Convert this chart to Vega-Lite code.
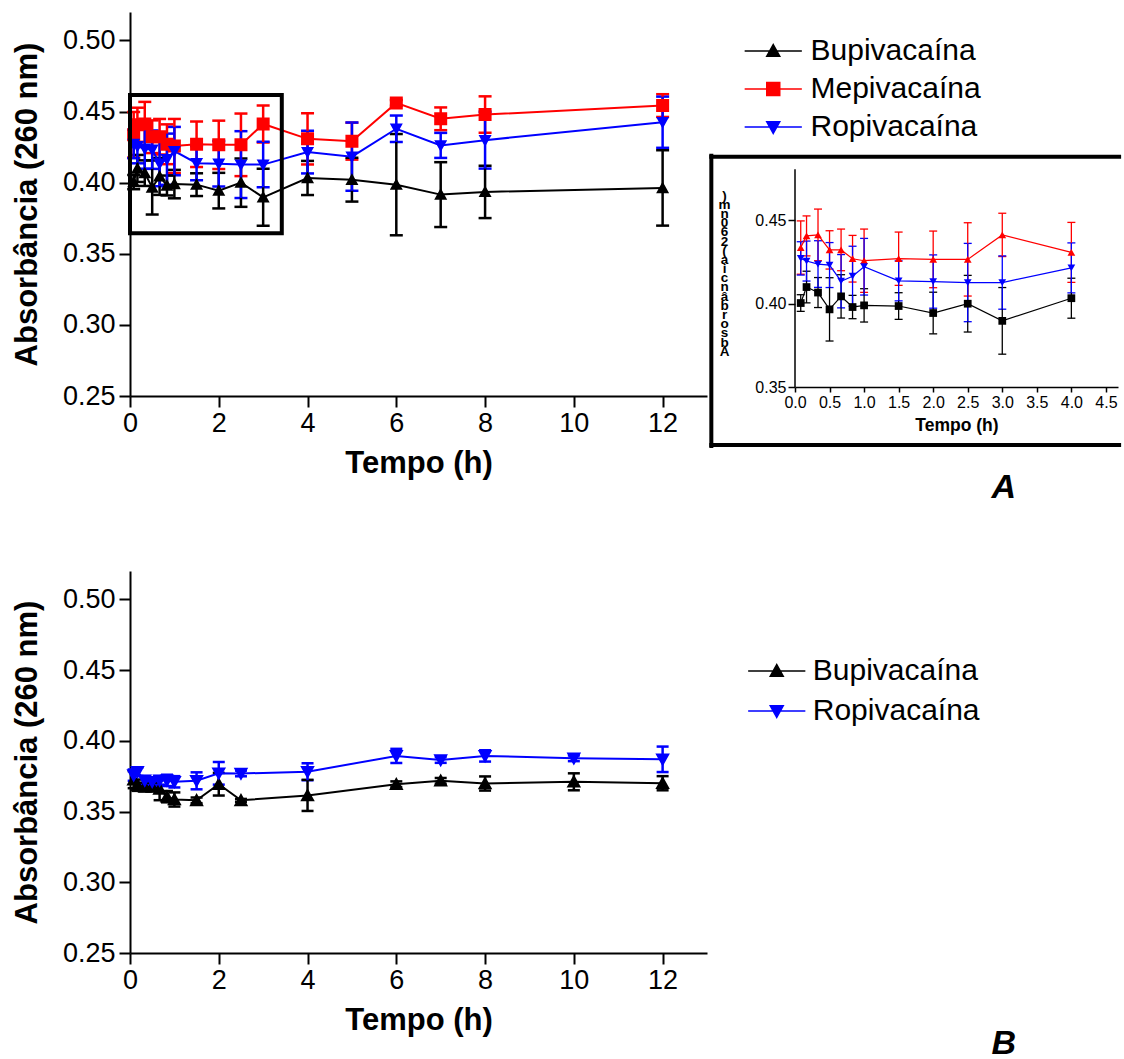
{
  "$schema": "https://vega.github.io/schema/vega-lite/v6.json",
  "autosize": {"type": "pad"},
  "padding": {"left": 11, "top": 12, "right": 0, "bottom": 0},
  "bounds": "flush",
  "columns": 2,
  "spacing": {"row": 175, "column": 88},
  "resolve": {"scale": {"color": "independent", "shape": "independent"}},
  "config": {
    "font": "Liberation Sans",
    "view": {"stroke": null},
    "axis": {"grid": false, "domainColor": "black", "tickColor": "black", "labelColor": "black", "titleColor": "black", "labelFlush": false, "labelOverlap": false, "labelBound": false},
    "legend": {"labelColor": "black", "labelLimit": 400},
    "title": {"color": "black"}
  },
  "datasets": {
    "A": [
      {"s": "Bupivacaína", "t": 0.083, "v": 0.4004, "e": 0.005},
      {"s": "Bupivacaína", "t": 0.167, "v": 0.410, "e": 0.0095},
      {"s": "Bupivacaína", "t": 0.333, "v": 0.4067, "e": 0.009},
      {"s": "Bupivacaína", "t": 0.5, "v": 0.3966, "e": 0.019},
      {"s": "Bupivacaína", "t": 0.667, "v": 0.4044, "e": 0.013},
      {"s": "Bupivacaína", "t": 0.833, "v": 0.398, "e": 0.007},
      {"s": "Bupivacaína", "t": 1, "v": 0.399, "e": 0.010},
      {"s": "Bupivacaína", "t": 1.5, "v": 0.3986, "e": 0.008},
      {"s": "Bupivacaína", "t": 2, "v": 0.3944, "e": 0.0125},
      {"s": "Bupivacaína", "t": 2.5, "v": 0.400, "e": 0.017},
      {"s": "Bupivacaína", "t": 3, "v": 0.3897, "e": 0.020},
      {"s": "Bupivacaína", "t": 4, "v": 0.4033, "e": 0.012},
      {"s": "Bupivacaína", "t": 5, "v": 0.4021, "e": 0.0154},
      {"s": "Bupivacaína", "t": 6, "v": 0.3986, "e": 0.0356},
      {"s": "Bupivacaína", "t": 7, "v": 0.3916, "e": 0.0228},
      {"s": "Bupivacaína", "t": 8, "v": 0.3935, "e": 0.0184},
      {"s": "Bupivacaína", "t": 12, "v": 0.3963, "e": 0.0265},
      {"s": "Mepivacaína", "t": 0.083, "v": 0.4337, "e": 0.016},
      {"s": "Mepivacaína", "t": 0.167, "v": 0.4407, "e": 0.012},
      {"s": "Mepivacaína", "t": 0.333, "v": 0.4413, "e": 0.0155},
      {"s": "Mepivacaína", "t": 0.5, "v": 0.4323, "e": 0.0115},
      {"s": "Mepivacaína", "t": 0.667, "v": 0.4323, "e": 0.0125},
      {"s": "Mepivacaína", "t": 0.833, "v": 0.427, "e": 0.014},
      {"s": "Mepivacaína", "t": 1, "v": 0.4258, "e": 0.019},
      {"s": "Mepivacaína", "t": 1.5, "v": 0.427, "e": 0.016},
      {"s": "Mepivacaína", "t": 2, "v": 0.4266, "e": 0.017},
      {"s": "Mepivacaína", "t": 2.5, "v": 0.4266, "e": 0.022},
      {"s": "Mepivacaína", "t": 3, "v": 0.4413, "e": 0.013},
      {"s": "Mepivacaína", "t": 4, "v": 0.4308, "e": 0.018},
      {"s": "Mepivacaína", "t": 5, "v": 0.4292, "e": 0.013},
      {"s": "Mepivacaína", "t": 6, "v": 0.4561, "e": 0.002},
      {"s": "Mepivacaína", "t": 7, "v": 0.4449, "e": 0.008},
      {"s": "Mepivacaína", "t": 8, "v": 0.4479, "e": 0.0128},
      {"s": "Mepivacaína", "t": 12, "v": 0.4542, "e": 0.008},
      {"s": "Ropivacaína", "t": 0.083, "v": 0.4272, "e": 0.010},
      {"s": "Ropivacaína", "t": 0.167, "v": 0.4256, "e": 0.012},
      {"s": "Ropivacaína", "t": 0.333, "v": 0.4238, "e": 0.014},
      {"s": "Ropivacaína", "t": 0.5, "v": 0.4232, "e": 0.0135},
      {"s": "Ropivacaína", "t": 0.667, "v": 0.4135, "e": 0.016},
      {"s": "Ropivacaína", "t": 0.833, "v": 0.4165, "e": 0.018},
      {"s": "Ropivacaína", "t": 1, "v": 0.4222, "e": 0.017},
      {"s": "Ropivacaína", "t": 1.5, "v": 0.4137, "e": 0.012},
      {"s": "Ropivacaína", "t": 2, "v": 0.4133, "e": 0.016},
      {"s": "Ropivacaína", "t": 2.5, "v": 0.4127, "e": 0.0235},
      {"s": "Ropivacaína", "t": 3, "v": 0.4127, "e": 0.016},
      {"s": "Ropivacaína", "t": 4, "v": 0.4215, "e": 0.015},
      {"s": "Ropivacaína", "t": 5, "v": 0.4183, "e": 0.024},
      {"s": "Ropivacaína", "t": 6, "v": 0.4379, "e": 0.0093},
      {"s": "Ropivacaína", "t": 7, "v": 0.4262, "e": 0.0088},
      {"s": "Ropivacaína", "t": 8, "v": 0.4299, "e": 0.020},
      {"s": "Ropivacaína", "t": 12, "v": 0.4425, "e": 0.018}
    ],
    "B": [
      {"s": "Bupivacaína", "t": 0.083, "v": 0.3725, "e": 0.006},
      {"s": "Bupivacaína", "t": 0.167, "v": 0.3686, "e": 0.004},
      {"s": "Bupivacaína", "t": 0.333, "v": 0.3674, "e": 0.003},
      {"s": "Bupivacaína", "t": 0.5, "v": 0.3674, "e": 0.003},
      {"s": "Bupivacaína", "t": 0.667, "v": 0.366, "e": 0.008},
      {"s": "Bupivacaína", "t": 0.833, "v": 0.3605, "e": 0.004},
      {"s": "Bupivacaína", "t": 1, "v": 0.3585, "e": 0.005},
      {"s": "Bupivacaína", "t": 1.5, "v": 0.3579, "e": 0.002},
      {"s": "Bupivacaína", "t": 2, "v": 0.3693, "e": 0.008},
      {"s": "Bupivacaína", "t": 2.5, "v": 0.3579, "e": 0.001},
      {"s": "Bupivacaína", "t": 4, "v": 0.3614, "e": 0.011},
      {"s": "Bupivacaína", "t": 6, "v": 0.3693, "e": 0.002},
      {"s": "Bupivacaína", "t": 7, "v": 0.3717, "e": 0.002},
      {"s": "Bupivacaína", "t": 8, "v": 0.3698, "e": 0.005},
      {"s": "Bupivacaína", "t": 10, "v": 0.371, "e": 0.006},
      {"s": "Bupivacaína", "t": 12, "v": 0.370, "e": 0.005},
      {"s": "Ropivacaína", "t": 0.083, "v": 0.3757, "e": 0.004},
      {"s": "Ropivacaína", "t": 0.167, "v": 0.3781, "e": 0.003},
      {"s": "Ropivacaína", "t": 0.333, "v": 0.372, "e": 0.003},
      {"s": "Ropivacaína", "t": 0.5, "v": 0.371, "e": 0.003},
      {"s": "Ropivacaína", "t": 0.667, "v": 0.372, "e": 0.003},
      {"s": "Ropivacaína", "t": 0.833, "v": 0.372, "e": 0.004},
      {"s": "Ropivacaína", "t": 1, "v": 0.371, "e": 0.004},
      {"s": "Ropivacaína", "t": 1.5, "v": 0.3717, "e": 0.006},
      {"s": "Ropivacaína", "t": 2, "v": 0.377, "e": 0.008},
      {"s": "Ropivacaína", "t": 2.5, "v": 0.3769, "e": 0.002},
      {"s": "Ropivacaína", "t": 4, "v": 0.3781, "e": 0.006},
      {"s": "Ropivacaína", "t": 6, "v": 0.3893, "e": 0.005},
      {"s": "Ropivacaína", "t": 7, "v": 0.3864, "e": 0.002},
      {"s": "Ropivacaína", "t": 8, "v": 0.3893, "e": 0.004},
      {"s": "Ropivacaína", "t": 10, "v": 0.3876, "e": 0.002},
      {"s": "Ropivacaína", "t": 12, "v": 0.3869, "e": 0.009}
    ],
    "zoomBox": [{"x": 0, "x2": 3.42, "y": 0.3644, "y2": 0.4616}],
    "insetAxis": [{"x": 0, "y": 0.35, "y2": 0.4807}],
    "insetFrame": [
      {"x": -1.24, "x2": 4.72, "y": 0.4882, "y2": 0.4882},
      {"x": -1.24, "x2": 4.72, "y": 0.3152, "y2": 0.3152},
      {"x": -1.211, "x2": -1.211, "y": 0.3134, "y2": 0.49}
    ]
  },
  "concat": [
    {
      "width": 577,
      "height": 384,
      "layer": [
        {
          "data": {"name": "A"},
          "mark": {"type": "errorbar", "opacity": 1, "ticks": {"size": 13, "thickness": 2.5, "opacity": 1}, "thickness": 2.5},
          "encoding": {
            "x": {"field": "t", "type": "quantitative", "scale": {"domain": [0, 13], "nice": false, "zero": false},
              "axis": {"values": [0, 2, 4, 6, 8, 10, 12], "title": "Tempo (h)", "labelFontSize": 27, "titleFontSize": 31, "titleFontWeight": "bold", "tickSize": 11, "tickWidth": 2, "domainWidth": 2, "labelPadding": 3, "titlePadding": 12}},
            "y": {"field": "v", "type": "quantitative", "scale": {"domain": [0.25, 0.52], "nice": false, "zero": false},
              "axis": {"values": [0.25, 0.3, 0.35, 0.4, 0.45, 0.5], "format": ".2f", "title": "Absorbância (260 nm)", "labelFontSize": 27, "titleFontSize": 31, "titleFontWeight": "bold", "tickSize": 11, "tickWidth": 2, "domainWidth": 2, "labelPadding": 4, "titlePadding": 19}},
            "yError": {"field": "e"},
            "color": {"field": "s", "type": "nominal", "scale": {"domain": ["Bupivacaína", "Mepivacaína", "Ropivacaína"], "range": ["#000000", "#ff0000", "#0000ff"]}}
          }
        },
        {
          "data": {"name": "A"},
          "mark": {"type": "line", "strokeWidth": 2},
          "encoding": {
            "x": {"field": "t", "type": "quantitative"},
            "y": {"field": "v", "type": "quantitative"},
            "color": {"field": "s", "type": "nominal"}
          }
        },
        {
          "data": {"name": "A"},
          "mark": {"type": "point", "filled": true, "size": 169, "opacity": 1},
          "encoding": {
            "x": {"field": "t", "type": "quantitative"},
            "y": {"field": "v", "type": "quantitative"},
            "color": {"field": "s", "type": "nominal",
              "legend": {"orient": "none", "legendX": 628.25, "legendY": 24, "title": null, "padding": 0, "rowPadding": 8, "labelFontSize": 30, "labelOffset": 22.25, "symbolSize": 169, "symbolStrokeWidth": 1.5}},
            "shape": {"field": "s", "type": "nominal", "scale": {"domain": ["Bupivacaína", "Mepivacaína", "Ropivacaína"], "range": ["M-4.4,0H4.4M0,-1L1,0.8L-1,0.8Z", "M-4.4,0H4.4M-1,-1H1V1H-1Z", "M-4.4,0H4.4M0,1L1,-0.8L-1,-0.8Z"]}}
          }
        },
        {
          "data": {"name": "zoomBox"},
          "mark": {"type": "rect", "fillOpacity": 0, "stroke": "black", "strokeWidth": 4},
          "encoding": {
            "x": {"field": "x", "type": "quantitative"},
            "x2": {"field": "x2"},
            "y": {"field": "y", "type": "quantitative"},
            "y2": {"field": "y2"}
          }
        }
      ]
    },
    {
      "width": 323,
      "height": 375,
      "title": {"text": "A", "orient": "bottom", "anchor": "end", "frame": "group", "dx": -102, "offset": 21, "fontSize": 34, "fontStyle": "italic", "fontWeight": "bold"},
      "layer": [
        {
          "data": {"name": "A"},
          "transform": [{"filter": "datum.t <= 4"}],
          "mark": {"type": "errorbar", "opacity": 1, "ticks": {"size": 8, "thickness": 1.3, "opacity": 1}, "thickness": 1.3},
          "encoding": {
            "x": {"field": "t", "type": "quantitative", "scale": {"domain": [0, 4.675], "nice": false, "zero": false},
              "axis": {"values": [0, 0.5, 1, 1.5, 2, 2.5, 3, 3.5, 4, 4.5], "tickCount": 10, "format": ".1f", "title": "Tempo (h)", "labelOverlap": false, "labelSeparation": -10, "labelFontSize": 16, "titleFontSize": 17.5, "titleFontWeight": "bold", "tickSize": 5, "tickWidth": 1.5, "domainWidth": 1.5, "labelPadding": 2, "titlePadding": 6}},
            "y": {"field": "v", "type": "quantitative", "scale": {"domain": [0.35, 0.5751], "nice": false, "zero": false},
              "axis": {"values": [0.35, 0.4, 0.45], "format": ".2f", "domain": false,
                "title": [")", "m", "n", " ", "0", "6", "2", "(", " ", "a", "i", "c", "n", "â", "b", "r", "o", "s", "b", "A"],
                "titleAngle": 0, "titleFontSize": 13.5, "titleFontWeight": "bold", "titleLineHeight": 9.2, "titleAlign": "center", "titleBaseline": "middle", "titleX": -71, "titleY": 183,
                "labelOverlap": false, "labelFontSize": 16, "tickSize": 7, "tickWidth": 1.5, "labelPadding": 2}},
            "yError": {"field": "e"},
            "color": {"field": "s", "type": "nominal", "scale": {"domain": ["Bupivacaína", "Mepivacaína", "Ropivacaína"], "range": ["#000000", "#ff0000", "#0000ff"]}, "legend": null}
          }
        },
        {
          "data": {"name": "A"},
          "transform": [{"filter": "datum.t <= 4"}],
          "mark": {"type": "line", "strokeWidth": 1.2},
          "encoding": {
            "x": {"field": "t", "type": "quantitative"},
            "y": {"field": "v", "type": "quantitative"},
            "color": {"field": "s", "type": "nominal", "legend": null}
          }
        },
        {
          "data": {"name": "A"},
          "transform": [{"filter": "datum.t <= 4"}],
          "mark": {"type": "point", "filled": true, "size": 60, "opacity": 1},
          "encoding": {
            "x": {"field": "t", "type": "quantitative"},
            "y": {"field": "v", "type": "quantitative"},
            "color": {"field": "s", "type": "nominal", "legend": null},
            "shape": {"field": "s", "type": "nominal", "scale": {"domain": ["Bupivacaína", "Mepivacaína", "Ropivacaína"], "range": ["square", "triangle-up", "triangle-down"]}, "legend": null}
          }
        },
        {
          "data": {"name": "insetAxis"},
          "mark": {"type": "rule", "color": "black", "strokeWidth": 1.5},
          "encoding": {
            "x": {"field": "x", "type": "quantitative"},
            "y": {"field": "y", "type": "quantitative"},
            "y2": {"field": "y2"}
          }
        },
        {
          "data": {"name": "insetFrame"},
          "mark": {"type": "rule", "color": "black", "strokeWidth": 4},
          "encoding": {
            "x": {"field": "x", "type": "quantitative"},
            "x2": {"field": "x2"},
            "y": {"field": "y", "type": "quantitative"},
            "y2": {"field": "y2"}
          }
        }
      ]
    },
    {
      "width": 577,
      "height": 382,
      "title": {"text": "B", "orient": "bottom", "anchor": "end", "frame": "group", "dx": 309, "offset": -8, "fontSize": 34, "fontStyle": "italic", "fontWeight": "bold"},
      "layer": [
        {
          "data": {"name": "B"},
          "mark": {"type": "errorbar", "opacity": 1, "ticks": {"size": 12, "thickness": 2.5, "opacity": 1}, "thickness": 2.5},
          "encoding": {
            "x": {"field": "t", "type": "quantitative", "scale": {"domain": [0, 13], "nice": false, "zero": false},
              "axis": {"values": [0, 2, 4, 6, 8, 10, 12], "title": "Tempo (h)", "labelFontSize": 27, "titleFontSize": 31, "titleFontWeight": "bold", "tickSize": 11, "tickWidth": 2, "domainWidth": 2, "labelPadding": 3, "titlePadding": 12}},
            "y": {"field": "v", "type": "quantitative", "scale": {"domain": [0.25, 0.52], "nice": false, "zero": false},
              "axis": {"values": [0.25, 0.3, 0.35, 0.4, 0.45, 0.5], "format": ".2f", "title": "Absorbância (260 nm)", "labelFontSize": 27, "titleFontSize": 31, "titleFontWeight": "bold", "tickSize": 11, "tickWidth": 2, "domainWidth": 2, "labelPadding": 4, "titlePadding": 19}},
            "yError": {"field": "e"},
            "color": {"field": "s", "type": "nominal", "scale": {"domain": ["Bupivacaína", "Ropivacaína"], "range": ["#000000", "#0000ff"]}}
          }
        },
        {
          "data": {"name": "B"},
          "mark": {"type": "line", "strokeWidth": 2},
          "encoding": {
            "x": {"field": "t", "type": "quantitative"},
            "y": {"field": "v", "type": "quantitative"},
            "color": {"field": "s", "type": "nominal"}
          }
        },
        {
          "data": {"name": "B"},
          "mark": {"type": "point", "filled": true, "size": 210, "opacity": 1},
          "encoding": {
            "x": {"field": "t", "type": "quantitative"},
            "y": {"field": "v", "type": "quantitative"},
            "color": {"field": "s", "type": "nominal",
              "legend": {"orient": "none", "legendX": 631.75, "legendY": 85, "title": null, "padding": 0, "rowPadding": 10, "labelFontSize": 30, "labelOffset": 21, "symbolSize": 169, "symbolStrokeWidth": 1.5}},
            "shape": {"field": "s", "type": "nominal", "scale": {"domain": ["Bupivacaína", "Ropivacaína"], "range": ["M-4.4,0H4.4M0,-1L1,0.8L-1,0.8Z", "M-4.4,0H4.4M0,1L1,-0.8L-1,-0.8Z"]}}
          }
        }
      ]
    }
  ]
}
